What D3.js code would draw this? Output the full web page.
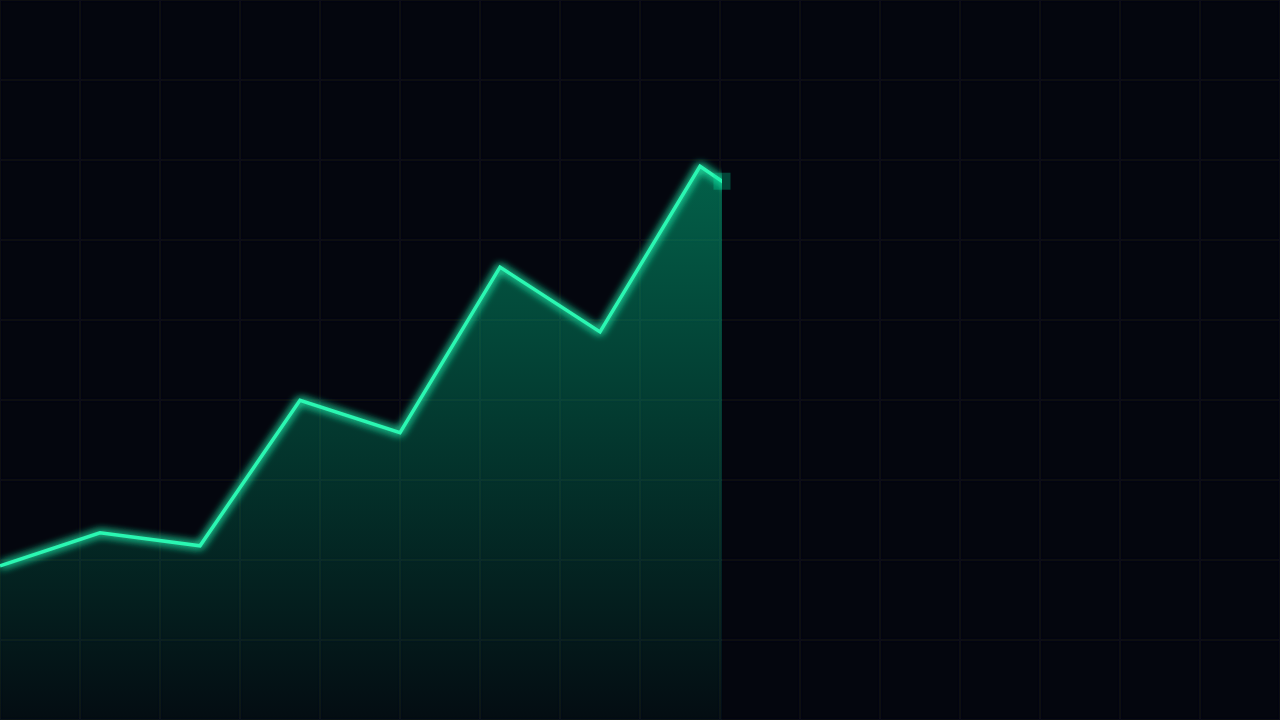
<!DOCTYPE html>
<html><head><meta charset="utf-8">
<script src="https://cdn.jsdelivr.net/npm/d3@7/dist/d3.min.js"></script>
<style>html,body{margin:0;padding:0;background:#04060e;overflow:hidden}</style>
</head><body>
<svg id="c" width="1280" height="720"></svg>
<script>
const steps = [0, 1, 2, 3, 4, 5, 6, 7, 8];
const values = [21.4, 26.0, 24.2, 44.4, 39.9, 62.9, 53.9, 76.9, 67.5];
const progress = 7.22; // reveal position along x (in step units)

const W = 1280, H = 720;
const svg = d3.select('#c');
const x = d3.scaleLinear().domain([0, 12.8]).range([0, W]);
const y = d3.scaleLinear().domain([0, 100]).range([H, 0]);

svg.append('rect').attr('width', W).attr('height', H).attr('fill', '#04060e');

const defs = svg.append('defs');
const grad = defs.append('linearGradient').attr('id', 'ag').attr('x1', 0).attr('x2', 0)
  .attr('gradientUnits', 'userSpaceOnUse').attr('y1', y(80)).attr('y2', H);
grad.append('stop').attr('offset', '0%').attr('stop-color', '#00e5a0').attr('stop-opacity', 0.42);
grad.append('stop').attr('offset', '100%').attr('stop-color', '#00e5a0').attr('stop-opacity', 0.03);

const glow = defs.append('filter').attr('id', 'glow').attr('x', '-20%').attr('y', '-20%').attr('width', '140%').attr('height', '140%');
glow.append('feGaussianBlur').attr('in', 'SourceGraphic').attr('stdDeviation', 4).attr('result', 'b');
const m = glow.append('feMerge');
m.append('feMergeNode').attr('in', 'b');
m.append('feMergeNode').attr('in', 'b');
m.append('feMergeNode').attr('in', 'SourceGraphic');

const soft = defs.append('filter').attr('id', 'soft');
soft.append('feGaussianBlur').attr('stdDeviation', 0.8);

defs.append('clipPath').attr('id', 'clip').append('rect')
  .attr('x', 0).attr('y', 0).attr('width', x(progress)).attr('height', H);

// grid
const gx = d3.range(0, 1281, 80), gy = d3.range(0, 721, 80);
const grid = svg.append('g').attr('stroke', '#0a0e18').attr('stroke-width', 2.5).attr('filter', 'url(#soft)');
grid.selectAll('.v').data(gx).join('line').attr('x1', d => d).attr('x2', d => d).attr('y1', 0).attr('y2', H);
grid.selectAll('.h').data(gy).join('line').attr('y1', d => d).attr('y2', d => d).attr('x1', 0).attr('x2', W);

const data = steps.map((s, i) => ({s, v: values[i]}));
const area = d3.area().x(d => x(d.s)).y0(H).y1(d => y(d.v));
const line = d3.line().x(d => x(d.s)).y(d => y(d.v));

const g = svg.append('g').attr('clip-path', 'url(#clip)');
g.append('path').datum(data).attr('d', area).attr('fill', 'url(#ag)');

const lg = svg.append('g').attr('clip-path', 'url(#clip)');
lg.append('path').datum(data).attr('d', line).attr('fill', 'none')
  .attr('stroke', '#2af7b2').attr('stroke-width', 3.5).attr('stroke-linejoin', 'miter')
  .attr('filter', 'url(#glow)');

// head marker
const i0 = Math.floor(progress), t = progress - i0;
const hv = values[i0] + (values[i0 + 1] - values[i0]) * t;
svg.append('rect').attr('x', x(progress) - 8.5).attr('y', y(hv) - 8.5).attr('width', 17).attr('height', 17)
  .attr('fill', '#00e5a0').attr('opacity', 0.28);
</script>
</body></html>
